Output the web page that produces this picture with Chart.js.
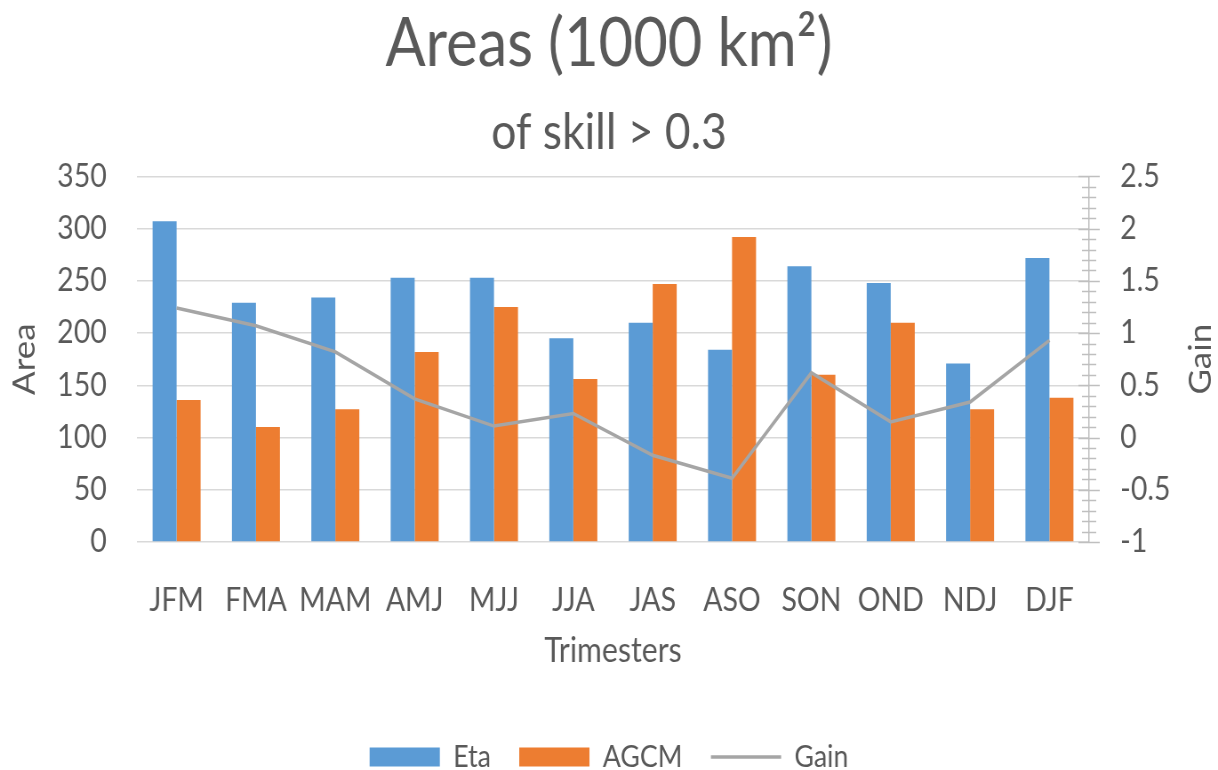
<!DOCTYPE html>
<html>
<head>
<meta charset="utf-8">
<script src="https://cdn.jsdelivr.net/npm/chart.js@4.4.0/dist/chart.umd.min.js"></script>
<style>
  html, body { margin: 0; padding: 0; background: #fff; overflow: hidden; }
  #chart { display: block; width: 1218px; height: 770px; }
</style>
</head>
<body>
<!-- drawn a bit wider and shown narrower, the reference text is condensed -->
<canvas id="chart" width="1370" height="770" style="width:1218px;height:770px"></canvas>
<script>
const trimesters = ["JFM", "FMA", "MAM", "AMJ", "MJJ", "JJA", "JAS", "ASO", "SON", "OND", "NDJ", "DJF"];
const etaAreas = [307, 229, 234, 253, 253, 195, 210, 184, 264, 248, 171, 272];
const agcmAreas = [136, 110, 127, 182, 225, 156, 247, 292, 160, 210, 127, 138];
const gain = [1.24, 1.07, 0.82, 0.37, 0.11, 0.23, -0.17, -0.39, 0.62, 0.15, 0.34, 0.93];

const areaTicks = [0, 50, 100, 150, 200, 250, 300, 350];
const gainTicks = [-1, -0.5, 0, 0.5, 1, 1.5, 2, 2.5];

const textColor = "#595959";
Chart.defaults.font.family = "Lato, 'Open Sans', sans-serif";
Chart.defaults.color = textColor;

// right axis: ticks crossing the axis line, minor ones every 0.1
const gainAxisTicks = {
  id: "gainAxisTicks",
  afterDraw(chart) {
    const s = chart.scales.gain;
    const ctx = chart.ctx;
    const x = s.left;
    ctx.save();
    ctx.strokeStyle = "#bfbfbf";
    ctx.lineWidth = 1.5;
    const steps = Math.round((s.max - s.min) * 10);
    for (let i = 0; i <= steps; i++) {
      const y = Math.round(s.getPixelForValue(s.min + i / 10)) + 0.5;
      const len = i % 5 === 0 ? 12 : 8;
      ctx.beginPath();
      ctx.moveTo(x - len, y);
      ctx.lineTo(x + len, y);
      ctx.stroke();
    }
    // axis title reads bottom to top, like the left one
    ctx.translate(s.right - 19, (s.top + s.bottom) / 2);
    ctx.rotate(-Math.PI / 2);
    ctx.fillStyle = textColor;
    ctx.font = "35px Lato, 'Open Sans', sans-serif";
    ctx.textAlign = "center";
    ctx.textBaseline = "middle";
    ctx.fillText("Gain", 0, 0);
    ctx.restore();
  }
};

new Chart(document.getElementById("chart"), {
  type: "bar",
  data: {
    labels: trimesters,
    datasets: [
      {
        label: "Eta",
        data: etaAreas,
        backgroundColor: "#5b9bd5",
        borderWidth: 0,
        pointStyle: "rect",
        order: 1
      },
      {
        label: "AGCM",
        data: agcmAreas,
        backgroundColor: "#ed7d31",
        borderWidth: 0,
        pointStyle: "rect",
        order: 1
      },
      {
        type: "line",
        label: "Gain",
        data: gain,
        yAxisID: "gain",
        borderColor: "#a5a5a5",
        backgroundColor: "#a5a5a5",
        borderWidth: 3.5,
        pointRadius: 0,
        pointStyle: "line",
        tension: 0,
        order: 0
      }
    ]
  },
  options: {
    responsive: false,
    animation: false,
    devicePixelRatio: 1,
    layout: { padding: { left: 0, right: 0, top: 0, bottom: -12 } },
    datasets: {
      bar: { categoryPercentage: 0.605, barPercentage: 1 }
    },
    plugins: {
      title: {
        display: true,
        text: "Areas (1000 km²)",
        color: textColor,
        font: { size: 67, weight: "normal" },
        padding: { top: 4, bottom: 0 }
      },
      subtitle: {
        display: true,
        text: "of skill > 0.3",
        color: textColor,
        font: { size: 50, weight: "normal" },
        padding: { top: 18, bottom: 14 }
      },
      legend: {
        position: "bottom",
        labels: {
          usePointStyle: true,
          pointStyleWidth: 79,
          boxHeight: 19,
          padding: 32,
          color: textColor,
          font: { size: 30 },
          sort: (a, b) => a.datasetIndex - b.datasetIndex
        }
      },
      tooltip: { enabled: false }
    },
    scales: {
      x: {
        grid: { display: false },
        border: { display: false },
        ticks: { padding: 31, font: { size: 32 }, color: textColor },
        title: {
          display: true,
          text: "Trimesters",
          color: textColor,
          font: { size: 34 },
          padding: { top: 0, bottom: 39 }
        },
        afterFit(scale) { scale.height = 168; }
      },
      y: {
        position: "left",
        min: 0,
        max: 350,
        afterBuildTicks(scale) { scale.ticks = areaTicks.map(v => ({ value: v })); },
        grid: { color: "#d9d9d9", lineWidth: 1.5, drawTicks: false },
        border: { display: false },
        ticks: { padding: 34, font: { size: 32 }, color: textColor },
        title: {
          display: true,
          text: "Area",
          color: textColor,
          font: { size: 35 },
          padding: { top: 7, bottom: 0 }
        },
        afterFit(scale) { scale.width = 154; }
      },
      gain: {
        position: "right",
        min: -1,
        max: 2.5,
        afterBuildTicks(scale) { scale.ticks = gainTicks.map(v => ({ value: v })); },
        grid: { drawOnChartArea: false, drawTicks: false },
        border: { display: true, color: "#bfbfbf", width: 1.5 },
        ticks: {
          padding: 35,
          font: { size: 32 },
          color: textColor,
          callback: v => String(v)
        },
        afterFit(scale) { scale.width = 145; }
      }
    }
  },
  plugins: [gainAxisTicks]
});
</script>
</body>
</html>
